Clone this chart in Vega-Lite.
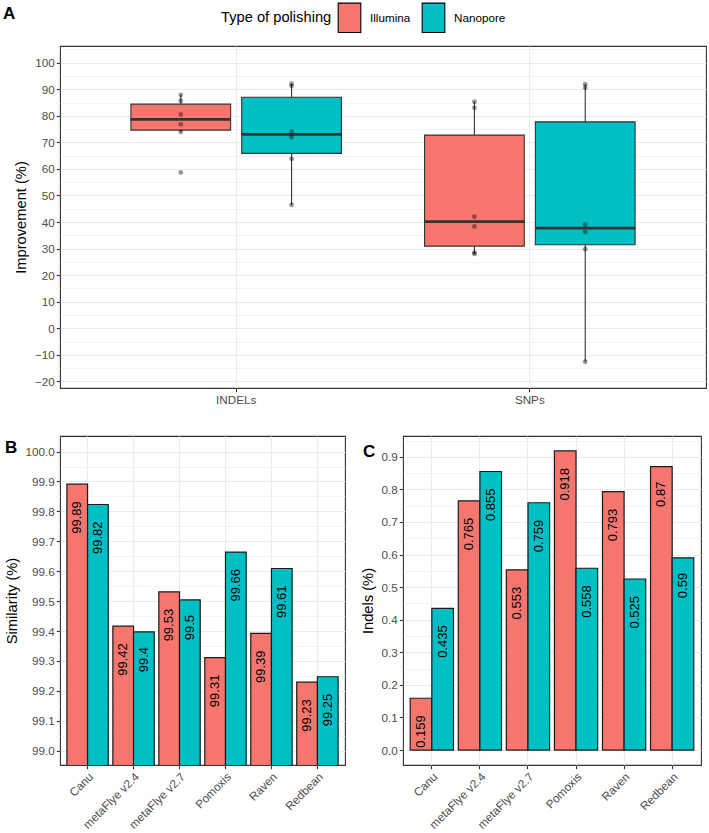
{
  "$schema": "https://vega.github.io/schema/vega-lite/v6.json",
  "padding": {"left": 2, "top": 1, "right": 4, "bottom": 0},
  "background": "white",
  "config": {
    "font": "Liberation Sans",
    "view": {"stroke": "#333333", "strokeWidth": 1.1},
    "axis": {"domain": false, "grid": true, "gridColor": "#EBEBEB", "gridWidth": 1.1, "tickColor": "#333333", "tickSize": 3.7, "tickWidth": 1.1, "labelColor": "#4D4D4D", "labelFontSize": 11.7, "labelFont": "Liberation Sans", "titleFont": "Liberation Sans", "titleFontSize": 14.7, "titleFontWeight": "normal", "titleColor": "#000000", "labelPadding": 2, "labelOverlap": false},
    "title": {"font": "Liberation Sans", "fontSize": 17, "fontWeight": "bold", "anchor": "start", "frame": "group", "color": "#000000"}
  },
  "resolve": {"scale": {"color": "independent", "xOffset": "independent", "x": "independent", "y": "independent"}, "legend": {"color": "independent"}},
  "spacing": 24,
  "vconcat": [
    {
      "width": 646,
      "height": 342,
      "title": {"text": "A", "dx": -57, "offset": -34, "baseline": "alphabetic"},
      "data": {"values": [
        {"var": "INDELs", "type": "Illumina", "v": 87.9},
        {"var": "INDELs", "type": "Illumina", "v": 85.7},
        {"var": "INDELs", "type": "Illumina", "v": 80.5},
        {"var": "INDELs", "type": "Illumina", "v": 76.8},
        {"var": "INDELs", "type": "Illumina", "v": 73.9},
        {"var": "INDELs", "type": "Illumina", "v": 58.7},
        {"var": "INDELs", "type": "Nanopore", "v": 92.1},
        {"var": "INDELs", "type": "Nanopore", "v": 91.3},
        {"var": "INDELs", "type": "Nanopore", "v": 74.0},
        {"var": "INDELs", "type": "Nanopore", "v": 72.0},
        {"var": "INDELs", "type": "Nanopore", "v": 63.8},
        {"var": "INDELs", "type": "Nanopore", "v": 46.4},
        {"var": "SNPs", "type": "Illumina", "v": 85.3},
        {"var": "SNPs", "type": "Illumina", "v": 83.0},
        {"var": "SNPs", "type": "Illumina", "v": 42.0},
        {"var": "SNPs", "type": "Illumina", "v": 38.3},
        {"var": "SNPs", "type": "Illumina", "v": 28.5},
        {"var": "SNPs", "type": "Illumina", "v": 28.0},
        {"var": "SNPs", "type": "Nanopore", "v": 91.9},
        {"var": "SNPs", "type": "Nanopore", "v": 90.6},
        {"var": "SNPs", "type": "Nanopore", "v": 39.1},
        {"var": "SNPs", "type": "Nanopore", "v": 36.3},
        {"var": "SNPs", "type": "Nanopore", "v": 29.8},
        {"var": "SNPs", "type": "Nanopore", "v": -12.6}
      ]},
      "encoding": {
        "x": {"field": "var", "type": "nominal", "scale": {"paddingInner": 0.283, "paddingOuter": 0.2415}, "axis": {"title": null, "labelAngle": 0, "labelPadding": 3}},
        "xOffset": {"field": "type", "type": "nominal", "scale": {"paddingInner": 0.1, "paddingOuter": 0}},
        "y": {"field": "v", "type": "quantitative", "scale": {"domain": [-22.5, 106.3], "nice": false, "zero": false},
          "axis": {"title": "Improvement (%)", "values": [-20, -15, -10, -5, 0, 5, 10, 15, 20, 25, 30, 35, 40, 45, 50, 55, 60, 65, 70, 75, 80, 85, 90, 95, 100, 105],
            "labelExpr": "datum.value % 10 !== 0 ? '' : datum.label",
            "gridWidth": {"condition": {"test": "datum.value % 10 !== 0", "value": 0.55}, "value": 1.1},
            "tickOpacity": {"condition": {"test": "datum.value % 10 !== 0", "value": 0}, "value": 1},
            "titlePadding": 6}}
      },
      "layer": [
        {
          "transform": [
            {"joinaggregate": [{"op": "q1", "field": "v", "as": "q1"}, {"op": "q3", "field": "v", "as": "q3"}], "groupby": ["var", "type"]},
            {"filter": "datum.v >= datum.q1 - 1.5*(datum.q3-datum.q1) && datum.v <= datum.q3 + 1.5*(datum.q3-datum.q1)"},
            {"aggregate": [{"op": "min", "field": "v", "as": "v"}, {"op": "max", "field": "v", "as": "v2"}], "groupby": ["var", "type"]}
          ],
          "mark": {"type": "rule", "color": "#333333", "strokeWidth": 1.1},
          "encoding": {"y2": {"field": "v2"}}
        },
        {
          "transform": [
            {"aggregate": [{"op": "q1", "field": "v", "as": "boxlo"}, {"op": "q3", "field": "v", "as": "boxhi"}], "groupby": ["var", "type"]}
          ],
          "mark": {"type": "bar", "stroke": "#333333", "strokeWidth": 1.1},
          "encoding": {
            "y": {"field": "boxlo", "type": "quantitative", "scale": {"domain": [-22.5, 106.3], "nice": false, "zero": false}},
            "y2": {"field": "boxhi"},
            "color": {"field": "type", "type": "nominal", "scale": {"domain": ["Illumina", "Nanopore"], "range": ["#F8766D", "#00BFC4"]},
              "legend": {"title": "Type of polishing", "orient": "none", "legendX": 161, "legendY": -44, "direction": "horizontal", "titleOrient": "left", "titleFontSize": 14.7, "titleFontWeight": "normal", "titleColor": "#000000", "titlePadding": 2, "labelFontSize": 11.7, "labelColor": "#000000", "labelOffset": 5, "columnPadding": 7, "symbolType": "M-0.77,-1L0.77,-1L0.77,1L-0.77,1Z", "symbolSize": 864, "symbolStrokeColor": "#000000", "symbolStrokeWidth": 1.1, "symbolOpacity": 1}}
          }
        },
        {
          "transform": [
            {"aggregate": [{"op": "median", "field": "v", "as": "med"}], "groupby": ["var", "type"]}
          ],
          "mark": {"type": "tick", "color": "#333333", "thickness": 2.6, "size": 100.4, "opacity": 1},
          "encoding": {
            "y": {"field": "med", "type": "quantitative", "scale": {"domain": [-22.5, 106.3], "nice": false, "zero": false}}
          }
        },
        {
          "mark": {"type": "circle", "color": "#000000", "opacity": 0.4, "size": 24}
        }
      ]
    },
    {
      "spacing": 13,
      "resolve": {"scale": {"color": "independent", "xOffset": "independent", "x": "independent", "y": "independent"}, "legend": {"color": "independent"}},
      "hconcat": [
        {
          "width": 285,
          "height": 329,
          "title": {"text": "B", "dx": -55, "offset": -38, "baseline": "alphabetic"},
          "data": {"values": [
            {"asm": "Canu", "type": "Illumina", "v": 99.891, "lab": "99.89"},
            {"asm": "Canu", "type": "Nanopore", "v": 99.823, "lab": "99.82"},
            {"asm": "metaFlye v2.4", "type": "Illumina", "v": 99.416, "lab": "99.42"},
            {"asm": "metaFlye v2.4", "type": "Nanopore", "v": 99.397, "lab": "99.4"},
            {"asm": "metaFlye v2.7", "type": "Illumina", "v": 99.531, "lab": "99.53"},
            {"asm": "metaFlye v2.7", "type": "Nanopore", "v": 99.504, "lab": "99.5"},
            {"asm": "Pomoxis", "type": "Illumina", "v": 99.311, "lab": "99.31"},
            {"asm": "Pomoxis", "type": "Nanopore", "v": 99.664, "lab": "99.66"},
            {"asm": "Raven", "type": "Illumina", "v": 99.392, "lab": "99.39"},
            {"asm": "Raven", "type": "Nanopore", "v": 99.609, "lab": "99.61"},
            {"asm": "Redbean", "type": "Illumina", "v": 99.229, "lab": "99.23"},
            {"asm": "Redbean", "type": "Nanopore", "v": 99.247, "lab": "99.25"}
          ]},
          "encoding": {
            "x": {"field": "asm", "type": "nominal", "sort": ["Canu", "metaFlye v2.4", "metaFlye v2.7", "Pomoxis", "Raven", "Redbean"], "scale": {"paddingInner": 0.1, "paddingOuter": 0.15}, "axis": {"title": null, "labelAngle": -45}},
            "xOffset": {"field": "type", "type": "nominal", "scale": {"paddingInner": 0, "paddingOuter": 0}},
            "y": {"field": "v", "type": "quantitative", "scale": {"domain": [98.952, 100.052], "nice": false, "zero": false},
              "axis": {"title": "Similarity (%)", "values": [99.0, 99.05, 99.1, 99.15, 99.2, 99.25, 99.3, 99.35, 99.4, 99.45, 99.5, 99.55, 99.6, 99.65, 99.7, 99.75, 99.8, 99.85, 99.9, 99.95, 100.0, 100.05],
                "labelExpr": "abs(datum.value*10 - round(datum.value*10)) > 0.01 ? '' : format(datum.value, '.1f')",
                "gridWidth": {"condition": {"test": "abs(datum.value*10 - round(datum.value*10)) > 0.01", "value": 0.55}, "value": 1.1},
                "tickOpacity": {"condition": {"test": "abs(datum.value*10 - round(datum.value*10)) > 0.01", "value": 0}, "value": 1},
                "titlePadding": 6}}
          },
          "layer": [
            {
              "mark": {"type": "bar", "stroke": "#1A1A1A", "strokeWidth": 1.2, "clip": true},
              "encoding": {
                "color": {"field": "type", "type": "nominal", "scale": {"domain": ["Illumina", "Nanopore"], "range": ["#F8766D", "#00BFC4"]}, "legend": null}
              }
            },
            {
              "transform": [{"filter": "length(datum.lab) >= 5"}],
              "mark": {"type": "text", "angle": 270, "align": "right", "baseline": "middle", "dx": -17, "fontSize": 13, "color": "#000000"},
              "encoding": {"text": {"field": "lab"}}
            },
            {
              "transform": [{"filter": "length(datum.lab) < 5"}],
              "mark": {"type": "text", "angle": 270, "align": "right", "baseline": "middle", "dx": -15, "fontSize": 13, "color": "#000000"},
              "encoding": {"text": {"field": "lab"}}
            }
          ]
        },
        {
          "width": 298,
          "height": 329,
          "title": {"text": "C", "dx": -40, "offset": -38, "baseline": "alphabetic"},
          "data": {"values": [
            {"asm": "Canu", "type": "Illumina", "v": 0.159, "lab": "0.159"},
            {"asm": "Canu", "type": "Nanopore", "v": 0.435, "lab": "0.435"},
            {"asm": "metaFlye v2.4", "type": "Illumina", "v": 0.765, "lab": "0.765"},
            {"asm": "metaFlye v2.4", "type": "Nanopore", "v": 0.855, "lab": "0.855"},
            {"asm": "metaFlye v2.7", "type": "Illumina", "v": 0.553, "lab": "0.553"},
            {"asm": "metaFlye v2.7", "type": "Nanopore", "v": 0.759, "lab": "0.759"},
            {"asm": "Pomoxis", "type": "Illumina", "v": 0.918, "lab": "0.918"},
            {"asm": "Pomoxis", "type": "Nanopore", "v": 0.558, "lab": "0.558"},
            {"asm": "Raven", "type": "Illumina", "v": 0.793, "lab": "0.793"},
            {"asm": "Raven", "type": "Nanopore", "v": 0.525, "lab": "0.525"},
            {"asm": "Redbean", "type": "Illumina", "v": 0.87, "lab": "0.87"},
            {"asm": "Redbean", "type": "Nanopore", "v": 0.59, "lab": "0.59"}
          ]},
          "encoding": {
            "x": {"field": "asm", "type": "nominal", "sort": ["Canu", "metaFlye v2.4", "metaFlye v2.7", "Pomoxis", "Raven", "Redbean"], "scale": {"paddingInner": 0.1, "paddingOuter": 0.15}, "axis": {"title": null, "labelAngle": -45}},
            "xOffset": {"field": "type", "type": "nominal", "scale": {"paddingInner": 0, "paddingOuter": 0}},
            "y": {"field": "v", "type": "quantitative", "scale": {"domain": [-0.0459, 0.9639], "nice": false, "zero": false},
              "axis": {"title": "Indels (%)", "values": [0, 0.05, 0.1, 0.15, 0.2, 0.25, 0.3, 0.35, 0.4, 0.45, 0.5, 0.55, 0.6, 0.65, 0.7, 0.75, 0.8, 0.85, 0.9, 0.95],
                "labelExpr": "abs(datum.value*10 - round(datum.value*10)) > 0.01 ? '' : format(datum.value, '.1f')",
                "gridWidth": {"condition": {"test": "abs(datum.value*10 - round(datum.value*10)) > 0.01", "value": 0.55}, "value": 1.1},
                "tickOpacity": {"condition": {"test": "abs(datum.value*10 - round(datum.value*10)) > 0.01", "value": 0}, "value": 1},
                "titlePadding": 6}}
          },
          "layer": [
            {
              "mark": {"type": "bar", "stroke": "#1A1A1A", "strokeWidth": 1.2, "clip": true},
              "encoding": {
                "y2": {"datum": 0},
                "color": {"field": "type", "type": "nominal", "scale": {"domain": ["Illumina", "Nanopore"], "range": ["#F8766D", "#00BFC4"]}, "legend": null}
              }
            },
            {
              "transform": [{"filter": "length(datum.lab) >= 5"}],
              "mark": {"type": "text", "angle": 270, "align": "right", "baseline": "middle", "dx": -17, "fontSize": 13, "color": "#000000"},
              "encoding": {"text": {"field": "lab"}}
            },
            {
              "transform": [{"filter": "length(datum.lab) < 5"}],
              "mark": {"type": "text", "angle": 270, "align": "right", "baseline": "middle", "dx": -15, "fontSize": 13, "color": "#000000"},
              "encoding": {"text": {"field": "lab"}}
            }
          ]
        }
      ]
    }
  ]
}
